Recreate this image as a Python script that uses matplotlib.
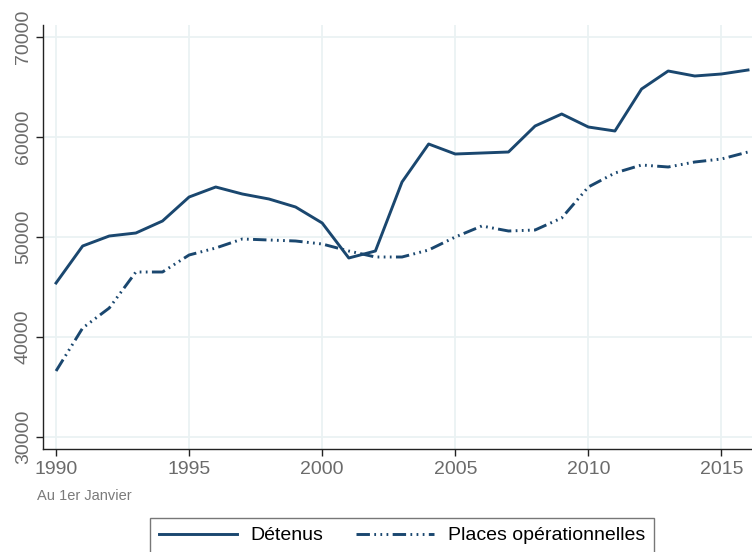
import matplotlib
matplotlib.use('Agg')
import matplotlib.pyplot as plt

# Données au 1er janvier
years = list(range(1990, 2017))
detenus = [45400, 49100, 50100, 50400, 51600, 54000, 55000, 54300, 53800, 53000,
           51400, 47900, 48600, 55500, 59300, 58300, 58400, 58500, 61100, 62300,
           61000, 60600, 64800, 66600, 66100, 66300, 66700]
places = [36600, 40900, 42900, 46500, 46500, 48200, 48900, 49800, 49700, 49600,
          49300, 48600, 48000, 48000, 48700, 50000, 51100, 50600, 50700, 51900,
          55000, 56400, 57200, 57000, 57500, 57800, 58500]

x_ticks = [1990, 1995, 2000, 2005, 2010, 2015]
y_ticks = [30000, 40000, 50000, 60000, 70000]

navy = '#1a476f'
grid_col = '#eaf2f3'
tick_col = '#6b6b6b'

plt.rcParams['font.family'] = ['Liberation Sans', 'DejaVu Sans']

fig = plt.figure(figsize=(7.52, 5.52), dpi=100)
ax = fig.add_axes([43 / 752, 1 - 449 / 552, 1 - 43 / 752, (449 - 25) / 552])

ax.plot(years, detenus, color=navy, lw=2.1, label='Détenus', solid_joinstyle='round')
ax.plot(years, places, color=navy, lw=2.1, label='Places opérationnelles',
        linestyle=(0, (4.6, 1.5, 0.6, 1.5, 0.6, 1.5, 0.6, 1.5)))

ax.set_xlim(1989.51, 2016.15)
ax.set_ylim(28800, 71200)
ax.set_xticks(x_ticks)
ax.set_yticks(y_ticks)
ax.set_yticklabels([str(v) for v in y_ticks], rotation=90, va='center')

ax.grid(True, color=grid_col, lw=1.3)
ax.set_axisbelow(True)
for side in ['top', 'right']:
    ax.spines[side].set_visible(False)
for side in ['left', 'bottom']:
    ax.spines[side].set_color('#222222')
    ax.spines[side].set_linewidth(1.0)

ax.tick_params(axis='both', direction='out', length=5, width=1, color='#222222',
               labelsize=14, labelcolor=tick_col)
ax.tick_params(axis='x', pad=4)
ax.tick_params(axis='y', pad=3)

fig.text(37 / 752, 1 - 496 / 552, 'Au 1er Janvier', fontsize=10.5, color='#7a7a7a',
         ha='left', va='center')

leg = fig.legend(loc='upper center', bbox_to_anchor=(402 / 752, 1 - 518 / 552),
                 ncol=2, fontsize=14, frameon=True, fancybox=False,
                 edgecolor='#555555', handlelength=4.0, columnspacing=1.7,
                 borderpad=0.45, handletextpad=0.7, borderaxespad=0)
leg.get_frame().set_linewidth(1.0)

plt.savefig('out.png', dpi=100)
plt.close(fig)
